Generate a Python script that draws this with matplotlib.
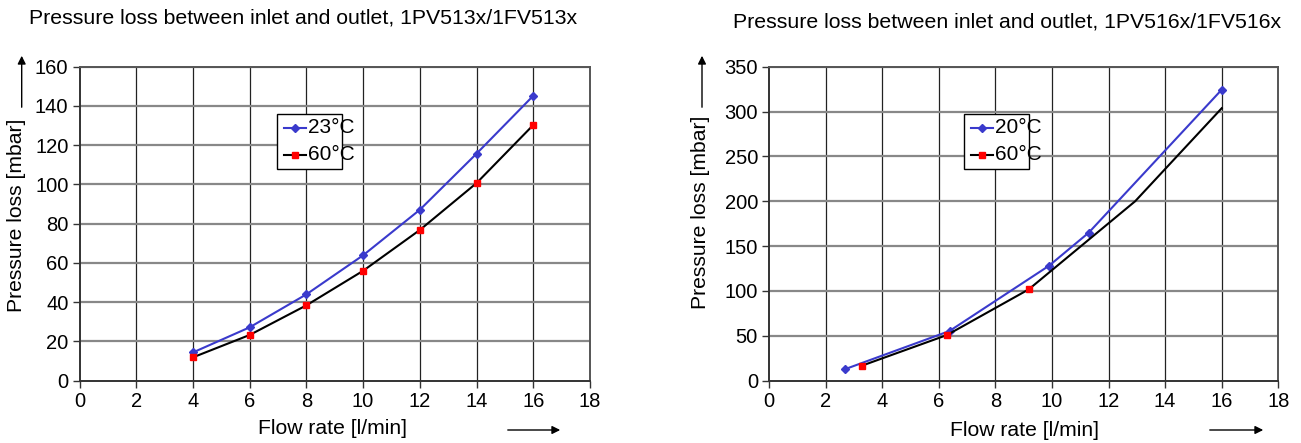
import matplotlib
matplotlib.use("Agg")
import matplotlib.pyplot as plt
from matplotlib.patches import Rectangle, FancyArrowPatch
from matplotlib.lines import Line2D

plt.rcParams['font.family'] = ['Liberation Sans', 'DejaVu Sans']

# left chart: 1PV513x/1FV513x
flujo_izq = [4, 6, 8, 10, 12, 14, 16]
perdida_23 = [14.4, 27.2, 44.0, 63.9, 87.1, 115.7, 145.2]
perdida_60_izq = [11.9, 23.3, 38.4, 56.0, 76.8, 100.7, 130.3]

# right chart: 1PV516x/1FV516x
flujo_20 = [2.70, 6.38, 9.90, 11.30, 16.0]
perdida_20 = [13.0, 55.4, 128.2, 165.0, 324.4]
flujo_60_der = [3.28, 6.29, 9.18, 12.94, 16.0]
perdida_60_der = [16.7, 50.9, 101.8, 200.0, 303.7]

titulos = ["Pressure loss between inlet and outlet, 1PV513x/1FV513x",
           "Pressure loss between inlet and outlet, 1PV516x/1FV516x"]
etiquetas_izq = ["23°C", "60°C"]
etiquetas_der = ["20°C", "60°C"]

AZUL = '#3a3acc'
ROJO = '#ff0000'
W, H = 1301, 443
estilo_azul = dict(color=AZUL, lw=1.5, marker='D', ms=4, mfc=AZUL, mec=AZUL)
estilo_rojo = dict(color='black', lw=1.5, marker='s', ms=5, mfc=ROJO, mec=ROJO)


def px(x, y):
    return x / W, 1 - y / H


def preparar_ejes(ax, ymax, ypaso):
    ax.set_xlim(0, 18)
    ax.set_ylim(0, ymax)
    ax.set_xticks(range(0, 19, 2))
    ax.set_yticks(range(0, ymax + 1, ypaso))
    ax.grid(False)
    for x in range(2, 18, 2):
        ax.axvline(x, color='#222222', lw=0.9, zorder=1)
    for y in range(ypaso, ymax + 1, ypaso):
        ax.axhline(y, color='#888888', lw=1.6, zorder=1)
    for lado in ['left', 'bottom']:
        ax.spines[lado].set_color('#333333')
        ax.spines[lado].set_linewidth(1.4)
    for lado in ['top', 'right']:
        ax.spines[lado].set_color('#555555')
        ax.spines[lado].set_linewidth(1.4)
    ax.tick_params(direction='out', length=5, width=1.0, color='#333333',
                   labelsize=14.5, pad=3)


def leyenda(fig, x0, etiquetas):
    # hand made legend box, text runs over the right edge as in the original
    fig.add_artist(Rectangle(px(x0, 169.3), 65 / W, 55 / H, transform=fig.transFigure,
                             facecolor='white', edgecolor='black', lw=1.0, zorder=5))
    for fila, (yy, est) in enumerate([(128, estilo_azul), (155, estilo_rojo)]):
        xa, ya = px(x0 + 7, yy)
        xb, _ = px(x0 + 29, yy)
        fig.add_artist(Line2D([xa, xb], [ya, ya], transform=fig.transFigure,
                              markevery=[], zorder=6, **{k: v for k, v in est.items()
                                                         if k != 'marker'}))
        fig.add_artist(Line2D([(xa + xb) / 2], [ya], transform=fig.transFigure,
                              ls='none', marker=est['marker'], ms=est['ms'],
                              mfc=est['mfc'], mec=est['mec'], zorder=7))
        fig.text(*px(x0 + 31, yy), etiquetas[fila], fontsize=15, ha='left',
                 va='center', zorder=8)


def flechas(fig, x_y, x0, x1):
    # arrow next to the y label and below the x axis
    fig.add_artist(FancyArrowPatch(px(x_y, 110), px(x_y, 53), transform=fig.transFigure,
                                   arrowstyle='-|>', mutation_scale=12, color='black', lw=1))
    fig.add_artist(FancyArrowPatch(px(x0, 430), px(x1, 430), transform=fig.transFigure,
                                   arrowstyle='-|>', mutation_scale=12, color='black', lw=1))


fig = plt.figure(figsize=(W / 100, H / 100), dpi=100)

ax1 = fig.add_axes([79.5 / W, 1 - 380.7 / H, 510.5 / W, 314 / H])
preparar_ejes(ax1, 160, 20)
ax1.plot(flujo_izq, perdida_23, zorder=3, **estilo_azul)
ax1.plot(flujo_izq, perdida_60_izq, zorder=3, **estilo_rojo)

ax2 = fig.add_axes([769 / W, 1 - 380.7 / H, 509.3 / W, 314 / H])
preparar_ejes(ax2, 350, 50)
ax2.plot(flujo_20, perdida_20, zorder=3, **estilo_azul)
ax2.plot(flujo_60_der, perdida_60_der, markevery=[0, 1, 2], zorder=3, **estilo_rojo)

leyenda(fig, 276.7, etiquetas_izq)
leyenda(fig, 964.3, etiquetas_der)

# titles and axis labels
fig.text(*px(29, 18), titulos[0], fontsize=15.3, ha='left', va='center')
fig.text(*px(733, 22), titulos[1], fontsize=15.3, ha='left', va='center')
fig.text(*px(17, 215), "Pressure loss [mbar]", fontsize=15.2, rotation=90,
         ha='center', va='center')
fig.text(*px(700, 212), "Pressure loss [mbar]", fontsize=15.2, rotation=90,
         ha='center', va='center')
fig.text(*px(333, 428), "Flow rate [l/min]", fontsize=15.2, ha='center', va='center')
fig.text(*px(1025, 430), "Flow rate [l/min]", fontsize=15.2, ha='center', va='center')

flechas(fig, 21.7, 505, 563)
flechas(fig, 702, 1207, 1266)

fig.savefig("out.png", dpi=100)
